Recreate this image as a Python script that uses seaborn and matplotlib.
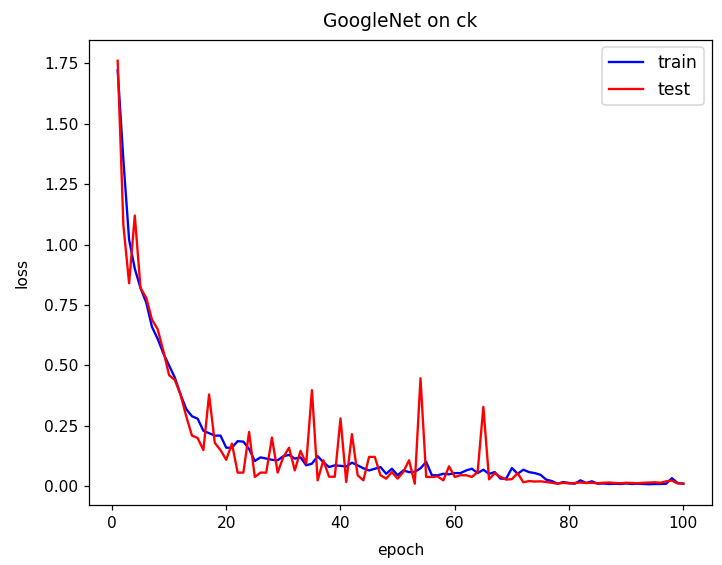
import numpy as np
import pandas as pd
import matplotlib
matplotlib.use("Agg")
import matplotlib.pyplot as plt
import seaborn as sns

epochs = list(range(1, 101))

train_loss = [
    1.72, 1.35, 1.02, 0.90, 0.82, 0.76, 0.66, 0.61, 0.55, 0.50,
    0.45, 0.38, 0.32, 0.29, 0.28, 0.23, 0.22, 0.21, 0.21, 0.16,
    0.16, 0.187, 0.185, 0.155, 0.105, 0.12, 0.115, 0.11, 0.108, 0.125,
    0.13, 0.115, 0.12, 0.087, 0.094, 0.125, 0.10, 0.08, 0.087, 0.085,
    0.082, 0.098, 0.087, 0.075, 0.066, 0.073, 0.080, 0.052, 0.073, 0.046,
    0.066, 0.059, 0.060, 0.075, 0.101, 0.046, 0.046, 0.052, 0.050, 0.055,
    0.055, 0.066, 0.073, 0.055, 0.069, 0.052, 0.059, 0.032, 0.032, 0.076,
    0.052, 0.069, 0.059, 0.055, 0.048, 0.028, 0.022, 0.011, 0.018, 0.014,
    0.011, 0.025, 0.014, 0.021, 0.011, 0.012, 0.010, 0.011, 0.010, 0.012,
    0.010, 0.011, 0.010, 0.009, 0.010, 0.010, 0.011, 0.034, 0.014, 0.011,
]

test_loss = [
    1.76, 1.08, 0.84, 1.12, 0.82, 0.78, 0.69, 0.65, 0.56, 0.46,
    0.44, 0.38, 0.29, 0.21, 0.20, 0.15, 0.38, 0.18, 0.15, 0.11,
    0.177, 0.057, 0.057, 0.225, 0.039, 0.057, 0.057, 0.202, 0.057, 0.122,
    0.160, 0.066, 0.147, 0.094, 0.398, 0.025, 0.108, 0.040, 0.040, 0.281,
    0.018, 0.216, 0.046, 0.025, 0.122, 0.122, 0.046, 0.032, 0.059, 0.032,
    0.060, 0.108, 0.011, 0.447, 0.039, 0.039, 0.041, 0.025, 0.083, 0.039,
    0.046, 0.046, 0.039, 0.059, 0.329, 0.029, 0.055, 0.039, 0.028, 0.030,
    0.055, 0.017, 0.022, 0.020, 0.021, 0.018, 0.015, 0.011, 0.015, 0.012,
    0.014, 0.016, 0.014, 0.015, 0.013, 0.015, 0.016, 0.014, 0.013, 0.015,
    0.014, 0.013, 0.015, 0.016, 0.017, 0.015, 0.021, 0.024, 0.012, 0.012,
]

df = pd.DataFrame({"epoch": epochs, "train": train_loss, "test": test_loss})

DPI = 112
fig, ax = plt.subplots(figsize=(722 / DPI, 565 / DPI), dpi=DPI)
fig.subplots_adjust(left=0.1238, right=0.9856, top=0.930, bottom=0.1055)

sns.lineplot(data=df, x="epoch", y="train", color="blue", label="train",
             ax=ax, estimator=None, linewidth=1.5)
sns.lineplot(data=df, x="epoch", y="test", color="red", label="test",
             ax=ax, estimator=None, linewidth=1.5)

ax.set_title("GoogleNet on ck", pad=8)
ax.set_xlabel("epoch", labelpad=7.5)
ax.set_ylabel("loss", labelpad=9.5)
ax.legend(loc="upper right", fontsize=11, borderaxespad=0.45)

fig.savefig("out.png", dpi=DPI)
